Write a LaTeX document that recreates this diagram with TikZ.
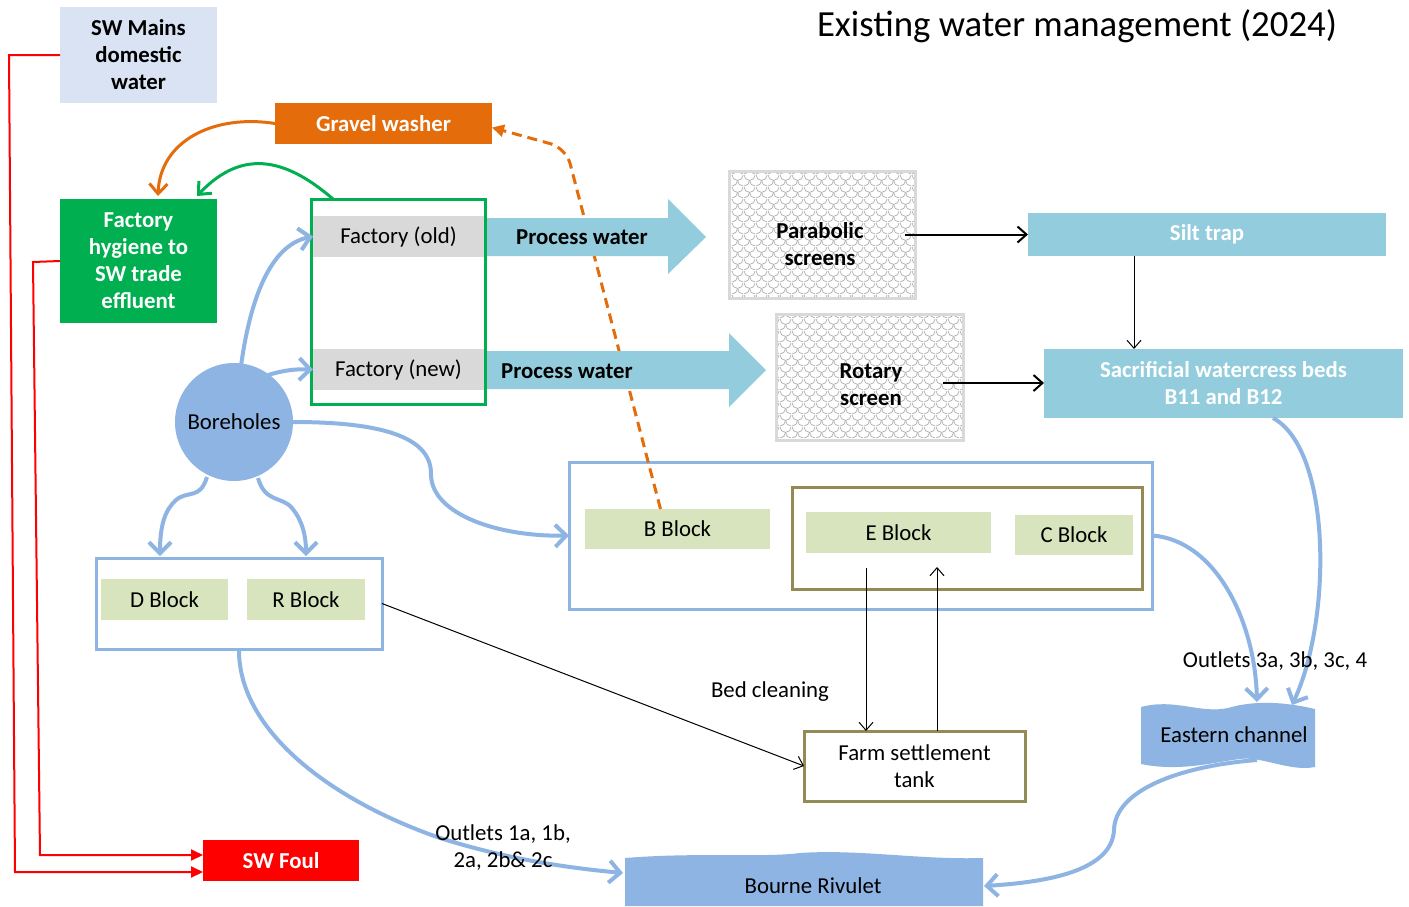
\documentclass[tikz,border=0pt]{standalone}
\usepackage{fontspec}
\setmainfont{Carlito}
\usetikzlibrary{arrows.meta,patterns.meta,calc}
\definecolor{swmc}{HTML}{DAE3F3}
\definecolor{orc}{HTML}{E46C0A}
\definecolor{grc}{HTML}{00B050}
\definecolor{gyc}{HTML}{D9D9D9}
\definecolor{pwc}{HTML}{93CDDD}
\definecolor{bluc}{HTML}{8EB4E3}
\definecolor{blkc}{HTML}{D7E4BD}
\definecolor{olc}{HTML}{948A54}
\definecolor{rdc}{HTML}{FF0000}
\tikzdeclarepattern{
  name=scales,
  type=uncolored,
  bounding box={(0pt,0pt) and (6pt,6pt)},
  tile size={(6pt,6pt)},
  code={
    \draw[line width=0.4pt] (0pt,6pt) arc[start angle=180,end angle=360,radius=3pt];
    \draw[line width=0.4pt] (0pt,0pt) arc[start angle=270,end angle=360,radius=3pt];
    \draw[line width=0.4pt] (3pt,3pt) arc[start angle=180,end angle=270,radius=3pt];
  }
}
\newcommand\mybox[7]{\node[#6, minimum width={(#4-#2)*0.5pt}, minimum height={(#5-#3)*0.5pt}] (#1) at ({(#2+#4)/2},{(#3+#5)/2}) {#7};}
\begin{document}
\begin{tikzpicture}[x=0.5pt,y=-0.5pt,
  box/.style={inner sep=0pt, outer sep=0pt, align=center, font=\fontsize{11.4}{13.5}\selectfont},
  bbox/.style={box, font=\bfseries\fontsize{11.4}{13.5}\selectfont},
  txt/.style={inner sep=0pt, align=center, font=\fontsize{11.4}{13.5}\selectfont},
  btxt/.style={inner sep=0pt, align=center, font=\bfseries\fontsize{11.4}{13.5}\selectfont},
  blk/.style={box, fill=blkc},
  bluebox/.style={box, draw=bluc, line width=1.5pt, fill=white},
  screen/.style={box, draw=gyc, line width=1.5pt, pattern=scales, pattern color=black!30},
  blu/.style={draw=bluc, line width=2pt, -{Straight Barb[length=5.5pt,width=11pt]}},
  thinarr/.style={draw=black, line width=0.5pt, -{Straight Barb[length=4pt,width=7pt]}},
  medarr/.style={draw=black, line width=1pt, -{Straight Barb[length=4.5pt,width=8pt]}},
  redarr/.style={draw=rdc, line width=1pt, -{Triangle[length=6pt,width=5.5pt]}},
]
\useasboundingbox (0,0) rectangle (1409,906);
\fill[white] (0,0) rectangle (1409,906);

% title
\node[inner sep=0pt, font=\fontsize{18.4}{22}\selectfont] (title) at (1077,26) {Existing water management (2024)};

% left boxes
\mybox{swm}{60}{7}{217}{103}{bbox,fill=swmc}{SW Mains\\domestic\\water}
\mybox{gw}{275}{103}{492}{144}{bbox,fill=orc,text=white}{Gravel washer}
\mybox{fh}{60}{199}{217}{323}{bbox,fill=grc,text=white}{Factory\\hygiene to\\SW trade\\effluent}
\mybox{swf}{203}{840}{359}{881}{bbox,fill=rdc,text=white}{SW Foul}

% factory
\mybox{fac}{311}{199}{485}{404}{box,draw=grc,line width=1.5pt}{}
\mybox{fold}{313}{216}{484}{257}{box,fill=gyc}{Factory (old)}
\mybox{fnew}{313}{349}{484}{390}{box,fill=gyc}{Factory (new)}

% block groups
\mybox{bec}{569}{462}{1152}{609}{bluebox}{}
\mybox{ec}{792}{487}{1142}{589}{box,draw=olc,line width=1.5pt}{}
\mybox{bb}{585}{509}{770}{549}{blk}{B Block}
\mybox{eb}{806}{512}{991}{553}{blk}{E Block}
\mybox{cb}{1015}{515}{1133}{555}{blk}{C Block}
\mybox{dr}{96}{558}{382}{649}{bluebox}{}
\mybox{db}{101}{579}{228}{620}{blk}{D Block}
\mybox{rb}{247}{579}{365}{620}{blk}{R Block}

% gravel dashed return (behind process water arrows)
\draw[orc, line width=1.5pt, dash pattern=on 5pt off 3pt, rounded corners=8pt, -{Triangle[length=6pt,width=6pt]}]
  ([xshift=-8.5pt]bb.north) -- (566,148) -- ([yshift=-2pt]gw.east);

% process water arrows
\fill[pwc] (487,218) -- (668,218) -- (668,199) -- (706,237) -- (668,274) -- (668,256) -- (487,256) -- cycle;
\node[btxt] (pw1) at (582,237) {Process water};
\fill[pwc] (487,351) -- (729,351) -- (729,333) -- (766,370) -- (729,407) -- (729,389) -- (487,389) -- cycle;
\node[btxt] (pw2) at (567,371) {Process water};

% screens
\mybox{ps}{729}{171}{915}{298}{screen}{}
\node[btxt] (pst) at (820,244) {Parabolic\\screens};
\mybox{rs}{776}{314}{963}{440}{screen}{}
\node[btxt] (rst) at (871,385) {Rotary\\screen};

% silt trap, sacrificial beds
\mybox{st}{1028}{213}{1386}{256}{bbox,fill=pwc,text=white}{Silt trap}
\mybox{scb}{1044}{349}{1403}{418}{bbox,fill=pwc,text=white}{Sacrificial watercress beds\\B11 and B12}

% farm settlement tank
\mybox{tank}{804}{731}{1025}{801}{box,draw=olc,line width=1.5pt}{Farm settlement\\tank}

% boreholes
\node[circle, fill=bluc, minimum size=59pt, inner sep=0pt, outer sep=0pt, font=\fontsize{11.4}{13.5}\selectfont] (bh) at (234,422) {Boreholes};

% eastern channel
\fill[bluc] (1141,707) .. controls (1175,698) and (1200,714) .. (1228,708) .. controls (1255,700) and (1285,702) .. (1315,709)
  -- (1315,767) .. controls (1290,772) and (1262,756) .. (1240,759) .. controls (1215,762) and (1180,772) .. (1141,764) -- cycle;
\node[txt] (ech) at (1234,735) {Eastern channel};

% bourne rivulet
\fill[bluc] (625,858) .. controls (700,852) and (760,858) .. (800,853) .. controls (860,849) and (920,860) .. (983,858)
  -- (983,906) -- (625,906) -- cycle;
\node[txt] (brv) at (813,886) {Bourne Rivulet};

% red lines
\draw[redarr] (swm.west) -- (9,55) -- (15,872) -- (swf.west |- 0,872);
\draw[redarr] (fh.west) -- (33,262) -- (40,855) -- (swf.west |- 0,855);

% orange and green arrows to factory hygiene
\draw[orc, line width=1.5pt, -{Straight Barb[length=5pt,width=9pt]}] (gw.west) .. controls (215,114) and (160,140) .. (158,196);
\draw[grc, line width=1.5pt, -{Straight Barb[length=5pt,width=9pt]}] (333,199) .. controls (290,162) and (245,145) .. (197,196);

% borehole flows
\draw[blu] (241,366) .. controls (250,300) and (270,245) .. (fold.west);
\draw[blu] (268,375) .. controls (285,370) and (295,369) .. (fnew.west);
\draw[blu] (bh.east) .. controls (390,422) and (432,440) .. (431,475) .. controls (432,515) and (500,537) .. (bec.west);
\draw[blu] (207,477) .. controls (200,500) and (188,490) .. (176,500) .. controls (165,510) and (160,525) .. (160,556);
\draw[blu] (258,478) .. controls (265,503) and (282,496) .. (292,508) .. controls (302,520) and (306,535) .. (306,556);

% outflows
\draw[blu] (dr.south) .. controls (238,730) and (330,800) .. (440,838) .. controls (510,860) and (570,868) .. (623,873);
\draw[blu] (bec.east) .. controls (1215,540) and (1255,620) .. (1257,702);
\draw[blu] (1273,418) .. controls (1332,450) and (1332,620) .. (1292,705);
\draw[blu] (1257,760) .. controls (1180,766) and (1115,790) .. (1114,830) .. controls (1112,870) and (1050,882) .. (984,886);

% screen arrows
\draw[medarr] ([xshift=-5pt]ps.east) -- (st.west |- ps.east);
\draw[medarr] (943,383) -- (scb.west |- 0,383);
\draw[thinarr] ([xshift=-36.5pt]st.south) -- ([xshift=-36.5pt]st.south |- scb.north);

% E block <-> tank
\coordinate (edn) at (866,568);
\coordinate (eup) at (937,567);
\draw[thinarr] (edn) -- (edn |- tank.north);
\draw[thinarr] (eup |- tank.north) -- (eup);
\draw[thinarr] (dr.east) -- (tank.west);

% labels
\node[txt] (bedl) at (770,692) {Bed cleaning};
\node[txt] (out3) at (1275,661) {Outlets 3a, 3b, 3c, 4};
\node[txt] (out1) at (503,848) {Outlets 1a, 1b,\\2a, 2b\& 2c};
\end{tikzpicture}
\end{document}
